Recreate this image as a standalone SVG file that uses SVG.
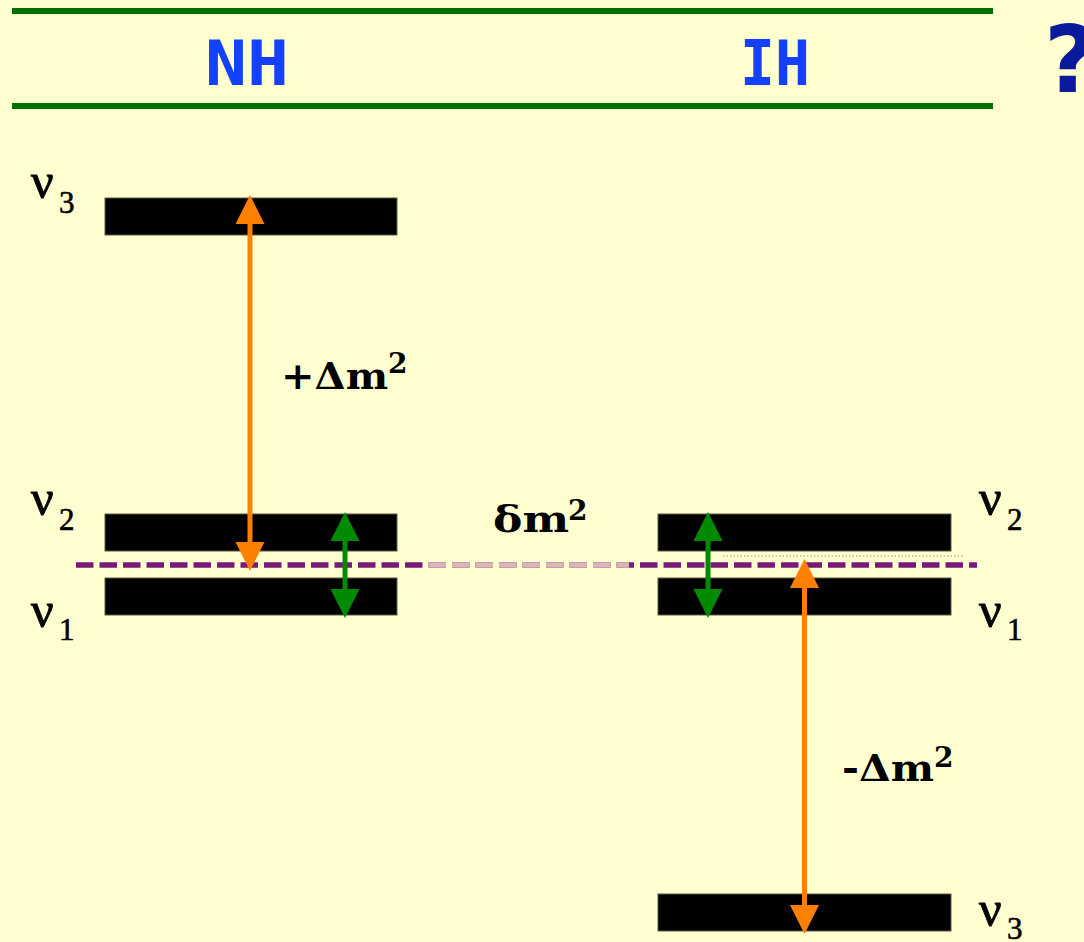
<svg xmlns="http://www.w3.org/2000/svg" width="1084" height="942" viewBox="0 0 1084 942">
  <style>
    .rule { fill: #007000; }
    .head { font-family: "DejaVu Sans Mono", "Liberation Mono", monospace; font-weight: bold; font-size: 62px; fill: #1440ff; }
    .quest { font-family: "DejaVu Sans", "Liberation Sans", sans-serif; font-weight: bold; font-size: 92px; fill: #0a1a9c; }
    .bar { fill: #000000; stroke: #5a5a48; stroke-width: 1; }
    .nu { font-family: "Liberation Serif", "DejaVu Serif", serif; font-size: 50px; fill: #000000; stroke: #000000; stroke-width: 0.9; }
    .sub { font-size: 31px; stroke-width: 0.6; }
    .dm { font-family: "DejaVu Serif", "Liberation Serif", serif; font-weight: bold; font-size: 37px; fill: #000000; }
    .sup { font-family: "DejaVu Serif", "Liberation Serif", serif; font-weight: bold; font-size: 28px; fill: #000000; }
    .ref { fill: none; stroke: #7a1a78; stroke-width: 5.5; stroke-dasharray: 17.5 6; }
    .ref-mid { fill: none; stroke: #d9b4b8; stroke-width: 5.5; stroke-dasharray: 17.5 6; }
    .dot { fill: none; stroke: #9a9a8a; stroke-width: 1.2; stroke-dasharray: 1.5 2; }
    .big { fill: none; stroke: #ff7f00; stroke-width: 5; }
    .small { fill: none; stroke: #008a00; stroke-width: 5; }
  </style>
  <defs>
    <marker id="headOrange" markerUnits="userSpaceOnUse" markerWidth="30" markerHeight="30" refX="0" refY="14.5" orient="auto-start-reverse">
      <path d="M0,0 L29,14.5 L0,29 Z" fill="#ff7f00"/>
    </marker>
    <marker id="headGreen" markerUnits="userSpaceOnUse" markerWidth="30" markerHeight="30" refX="0" refY="14.5" orient="auto-start-reverse">
      <path d="M0,0 L29,14.5 L0,29 Z" fill="#008a00"/>
    </marker>
  </defs>

  <rect x="0" y="0" width="1084" height="942" fill="#ffffd0"/>

  <!-- header band -->
  <g id="header">
    <rect class="rule" x="12" y="8" width="981" height="6"/>
    <rect class="rule" x="12" y="103" width="981" height="6"/>
    <text class="head" x="205" y="85" textLength="84" lengthAdjust="spacingAndGlyphs">NH</text>
    <text class="head" x="740" y="85" textLength="70" lengthAdjust="spacingAndGlyphs">IH</text>
    <text class="quest" x="1044" y="92">?</text>
  </g>

  <!-- normal hierarchy levels -->
  <g id="nh-nu3">
    <rect class="bar" x="105" y="198" width="292" height="37"/>
    <text class="nu" x="31" y="198">ν<tspan class="sub" x="59" y="213">3</tspan></text>
  </g>
  <g id="nh-nu2">
    <rect class="bar" x="105" y="514" width="292" height="37"/>
    <text class="nu" x="31" y="515">ν<tspan class="sub" x="59" y="530">2</tspan></text>
  </g>
  <g id="nh-nu1">
    <rect class="bar" x="105" y="578" width="292" height="37"/>
    <text class="nu" x="31" y="627">ν<tspan class="sub" x="59" y="640">1</tspan></text>
  </g>

  <!-- inverted hierarchy levels -->
  <g id="ih-nu2">
    <rect class="bar" x="658" y="514" width="293" height="37"/>
    <text class="nu" x="979" y="515">ν<tspan class="sub" x="1007" y="530">2</tspan></text>
  </g>
  <g id="ih-nu1">
    <rect class="bar" x="658" y="578" width="293" height="37"/>
    <text class="nu" x="979" y="627">ν<tspan class="sub" x="1007" y="640">1</tspan></text>
  </g>
  <g id="ih-nu3">
    <rect class="bar" x="658" y="894" width="293" height="37"/>
    <text class="nu" x="979" y="926">ν<tspan class="sub" x="1007" y="939">3</tspan></text>
  </g>

  <!-- splitting labels -->
  <g id="label-plus">
    <text class="dm" x="281" y="389" textLength="107" lengthAdjust="spacingAndGlyphs">+Δm</text>
    <text class="sup" x="388" y="373">2</text>
  </g>
  <g id="label-delta">
    <text class="dm" x="493" y="532" textLength="76" lengthAdjust="spacingAndGlyphs">δm</text>
    <text class="sup" x="568" y="520">2</text>
  </g>
  <g id="label-minus">
    <text class="dm" x="842" y="781" textLength="92" lengthAdjust="spacingAndGlyphs">-Δm</text>
    <text class="sup" x="934" y="767">2</text>
  </g>

  <!-- reference lines and splitting arrows -->
  <g id="connectors">
    <line class="ref" x1="76" y1="565" x2="977" y2="565"/>
    <line class="ref-mid" x1="424" y1="565" x2="629" y2="565" stroke-dashoffset="348"/>
    <line class="dot" x1="723" y1="556" x2="963" y2="556"/>
    <line class="big" x1="250" y1="224" x2="250" y2="542" marker-start="url(#headOrange)" marker-end="url(#headOrange)"/>
    <line class="small" x1="345" y1="541" x2="345" y2="589" marker-start="url(#headGreen)" marker-end="url(#headGreen)"/>
    <line class="small" x1="708" y1="541" x2="708" y2="589" marker-start="url(#headGreen)" marker-end="url(#headGreen)"/>
    <line class="big" x1="804.5" y1="588" x2="804.5" y2="905" marker-start="url(#headOrange)" marker-end="url(#headOrange)"/>
  </g>
</svg>
